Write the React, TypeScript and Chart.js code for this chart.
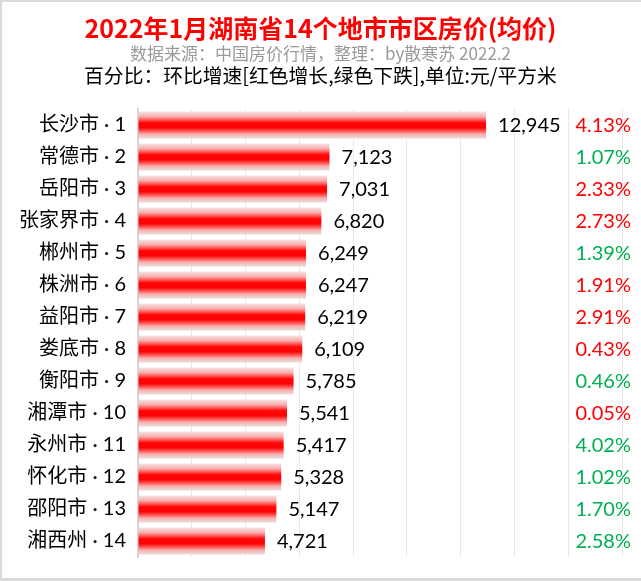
import React, { useEffect, useRef } from "react";
import { Chart, registerables } from "chart.js";

Chart.register(...registerables);

const cities = ["长沙市", "常德市", "岳阳市", "张家界市", "郴州市", "株洲市", "益阳市", "娄底市", "衡阳市", "湘潭市", "永州市", "怀化市", "邵阳市", "湘西州"];
const prices = [12945, 7123, 7031, 6820, 6249, 6247, 6219, 6109, 5785, 5541, 5417, 5328, 5147, 4721];
const changes = [4.13, -1.07, 2.33, 2.73, -1.39, 1.91, 2.91, 0.43, -0.46, 0.05, -4.02, -1.02, -1.7, -2.58];
const axisMax = 18000;
const axisStep = 2000;

const titleText = "2022年1月湖南省14个地市市区房价(均价)";
const sourceText = "数据来源：中国房价行情，整理：by散寒苏 2022.2";
const noteText = "百分比：环比增速[红色增长,绿色下跌],单位:元/平方米";

const BAR_PCT = 0.85;
const NUM_FONT = "Lato, 'Open Sans', sans-serif";
const CJK_FONT = "'Noto Sans CJK SC', 'Noto Sans', sans-serif";
const LABEL_FONT = "Lato, 'Noto Sans CJK SC', sans-serif";

export default function App() {
  const ref = useRef<HTMLCanvasElement>(null);

  useEffect(() => {
    document.body.style.margin = "0";
    const canvas = ref.current;
    if (!canvas) return;

    const labelPlugin = {
      id: "valueLabels",
      afterDatasetsDraw(chart: any) {
        const ctx = chart.ctx;
        const meta = chart.getDatasetMeta(0);
        ctx.save();
        ctx.font = `20px ${NUM_FONT}`;
        ctx.textBaseline = "middle";
        meta.data.forEach((bar: any, i: number) => {
          ctx.fillStyle = "#000000";
          ctx.textAlign = "left";
          ctx.fillText(prices[i].toLocaleString("en-US"), bar.x + 12, bar.y + 1);
          ctx.fillStyle = changes[i] >= 0 ? "#ff0000" : "#00b050";
          ctx.textAlign = "right";
          ctx.fillText(Math.abs(changes[i]).toFixed(2) + "%", 631, bar.y + 1);
        });
        ctx.restore();
      },
    };

    const chart = new Chart(canvas, {
      type: "bar",
      data: {
        labels: cities.map((c, i) => `${c} · ${i + 1}`),
        datasets: [
          {
            data: prices,
            barPercentage: BAR_PCT,
            categoryPercentage: 1,
            borderWidth: 0,
            backgroundColor: (c: any) => {
              const ch = c.chart;
              const y = ch.scales && ch.scales.y;
              if (!y || !ch.chartArea || c.dataIndex === undefined) return "#ff0000";
              const center = y.getPixelForValue(c.dataIndex);
              const half = ((y.bottom - y.top) / cities.length) * BAR_PCT / 2;
              const g = ch.ctx.createLinearGradient(0, center - half, 0, center + half);
              g.addColorStop(0, "#f8e6e6");
              g.addColorStop(0.2, "#fbaaaa");
              g.addColorStop(0.42, "#ff0808");
              g.addColorStop(0.6, "#ff0000");
              g.addColorStop(0.85, "#f9b4b4");
              g.addColorStop(1, "#e4dede");
              return g;
            },
          },
        ],
      },
      options: {
        indexAxis: "y",
        responsive: false,
        animation: false,
        devicePixelRatio: 1,
        layout: { padding: { left: 0, right: 19, top: 109, bottom: 20 } },
        plugins: {
          legend: { display: false },
          tooltip: { enabled: false },
          title: { display: false },
        },
        scales: {
          x: {
            min: 0,
            max: axisMax,
            ticks: { display: false, stepSize: axisStep },
            grid: { color: "#e9e9e9", drawTicks: false, lineWidth: 1 },
            border: { display: false },
          },
          y: {
            grid: { display: false, drawTicks: false },
            border: { display: true, color: "#d4d4d4", width: 2 },
            ticks: {
              color: "#000000",
              padding: 12,
              font: { family: LABEL_FONT, size: 20 },
            },
            afterFit: (s: any) => {
              s.width = 138;
            },
          },
        },
      },
      plugins: [labelPlugin],
    } as any);

    return () => chart.destroy();
  }, []);

  const line = (top: number, size: number, color: string, bold: boolean, text: string) => (
    <div
      style={{
        position: "absolute",
        left: 0,
        top,
        width: 641,
        textAlign: "center",
        fontFamily: CJK_FONT,
        fontSize: size,
        lineHeight: `${size}px`,
        fontWeight: bold ? 700 : 400,
        color,
        whiteSpace: "nowrap",
      }}
    >
      {text}
    </div>
  );

  return (
    <div
      style={{
        position: "relative",
        width: 641,
        height: 581,
        background: "#ffffff",
        overflow: "hidden",
      }}
    >
      <canvas ref={ref} width={641} height={581} style={{ position: "absolute", left: 0, top: 0 }} />
      <div
        style={{
          position: "absolute",
          left: 0,
          top: 0,
          width: 641,
          height: 581,
          boxSizing: "border-box",
          borderTop: "2px solid #dadada",
          borderLeft: "2px solid #dadada",
          borderBottom: "3px solid #dadada",
          pointerEvents: "none",
        }}
      />
      {line(15, 25, "#ff0000", true, titleText)}
      {line(44, 17, "#999999", false, sourceText)}
      {line(65, 19.8, "#000000", false, noteText)}
    </div>
  );
}
